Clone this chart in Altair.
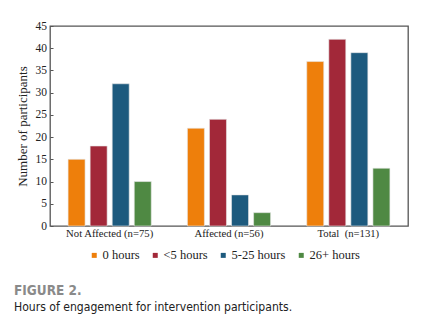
import altair as alt
import pandas as pd

groups = ["Not Affected (n=75)", "Affected (n=56)", "Total\u00a0 (n=131)"]
series = ["0 hours", "<5 hours", "5-25 hours", "26+ hours"]
hours_0 = [15, 22, 37]
hours_lt5 = [18, 24, 42]
hours_5_25 = [32, 7, 39]
hours_26 = [10, 3, 13]
colors = ["#EE7F0B", "#A22839", "#1D5A7E", "#4F8943"]
y_ticks = [0, 5, 10, 15, 20, 25, 30, 35, 40, 45]

rows = []
for s, vals in zip(series, [hours_0, hours_lt5, hours_5_25, hours_26]):
    for g, v in zip(groups, vals):
        rows.append({"group": g, "series": s, "count": v})
df = pd.DataFrame(rows)

serif = "Times New Roman, Liberation Serif, serif"
narrow = "Arial Narrow, Liberation Sans Narrow, DejaVu Sans Condensed, sans-serif"

chart = alt.Chart(df).mark_bar(stroke="#e8e8e8", strokeWidth=0.6).encode(
    x=alt.X("group:N", sort=groups,
            scale=alt.Scale(paddingInner=0, paddingOuter=0),
            axis=alt.Axis(title=None, labelAngle=0, ticks=False, domain=False,
                          labelFont=serif, labelFontSize=10.7, labelColor="#222",
                          labelPadding=2)),
    xOffset=alt.XOffset("series:N", sort=series,
                        scale=alt.Scale(paddingInner=0.23, paddingOuter=0.82)),
    y=alt.Y("count:Q", scale=alt.Scale(domain=[0, 45], nice=False),
            axis=alt.Axis(values=y_ticks, title="Number of participants", grid=False,
                          domain=False, offset=-3, tickSize=3, tickColor="#555",
                          labelFont=serif, labelFontSize=11.5, labelColor="#222",
                          labelPadding=3.5,
                          titleFont=serif, titleFontSize=13, titleFontWeight="normal",
                          titleColor="#222", titlePadding=6)),
    color=alt.Color("series:N", sort=series,
                    scale=alt.Scale(domain=series, range=colors),
                    legend=alt.Legend(orient="none", direction="horizontal",
                                      legendX=38, legendY=223, title=None,
                                      symbolType="square", symbolSize=25,
                                      symbolStrokeWidth=0,
                                      labelFont=serif, labelFontSize=12.5,
                                      labelColor="#222", columnPadding=9,
                                      labelOffset=2)),
).properties(
    width=358, height=200,
    autosize=alt.AutoSizeParams(type="none"),
    padding={"left": 50, "top": 26, "right": 28, "bottom": 98},
    title=alt.TitleParams(
        text="FIGURE 2.",
        subtitle="Hours of engagement for intervention participants.",
        orient="bottom", anchor="start", frame="group", dx=-36, offset=22,
        font=narrow, fontSize=13.5, fontWeight="bold", color="#8a8a8a",
        subtitleFont=narrow, subtitleFontSize=12.1,
        subtitleColor="#222", subtitlePadding=3,
    ),
).configure_view(stroke="#555", strokeWidth=1.3)

chart.save("out.html", embed_options={"renderer": "svg", "actions": False})
